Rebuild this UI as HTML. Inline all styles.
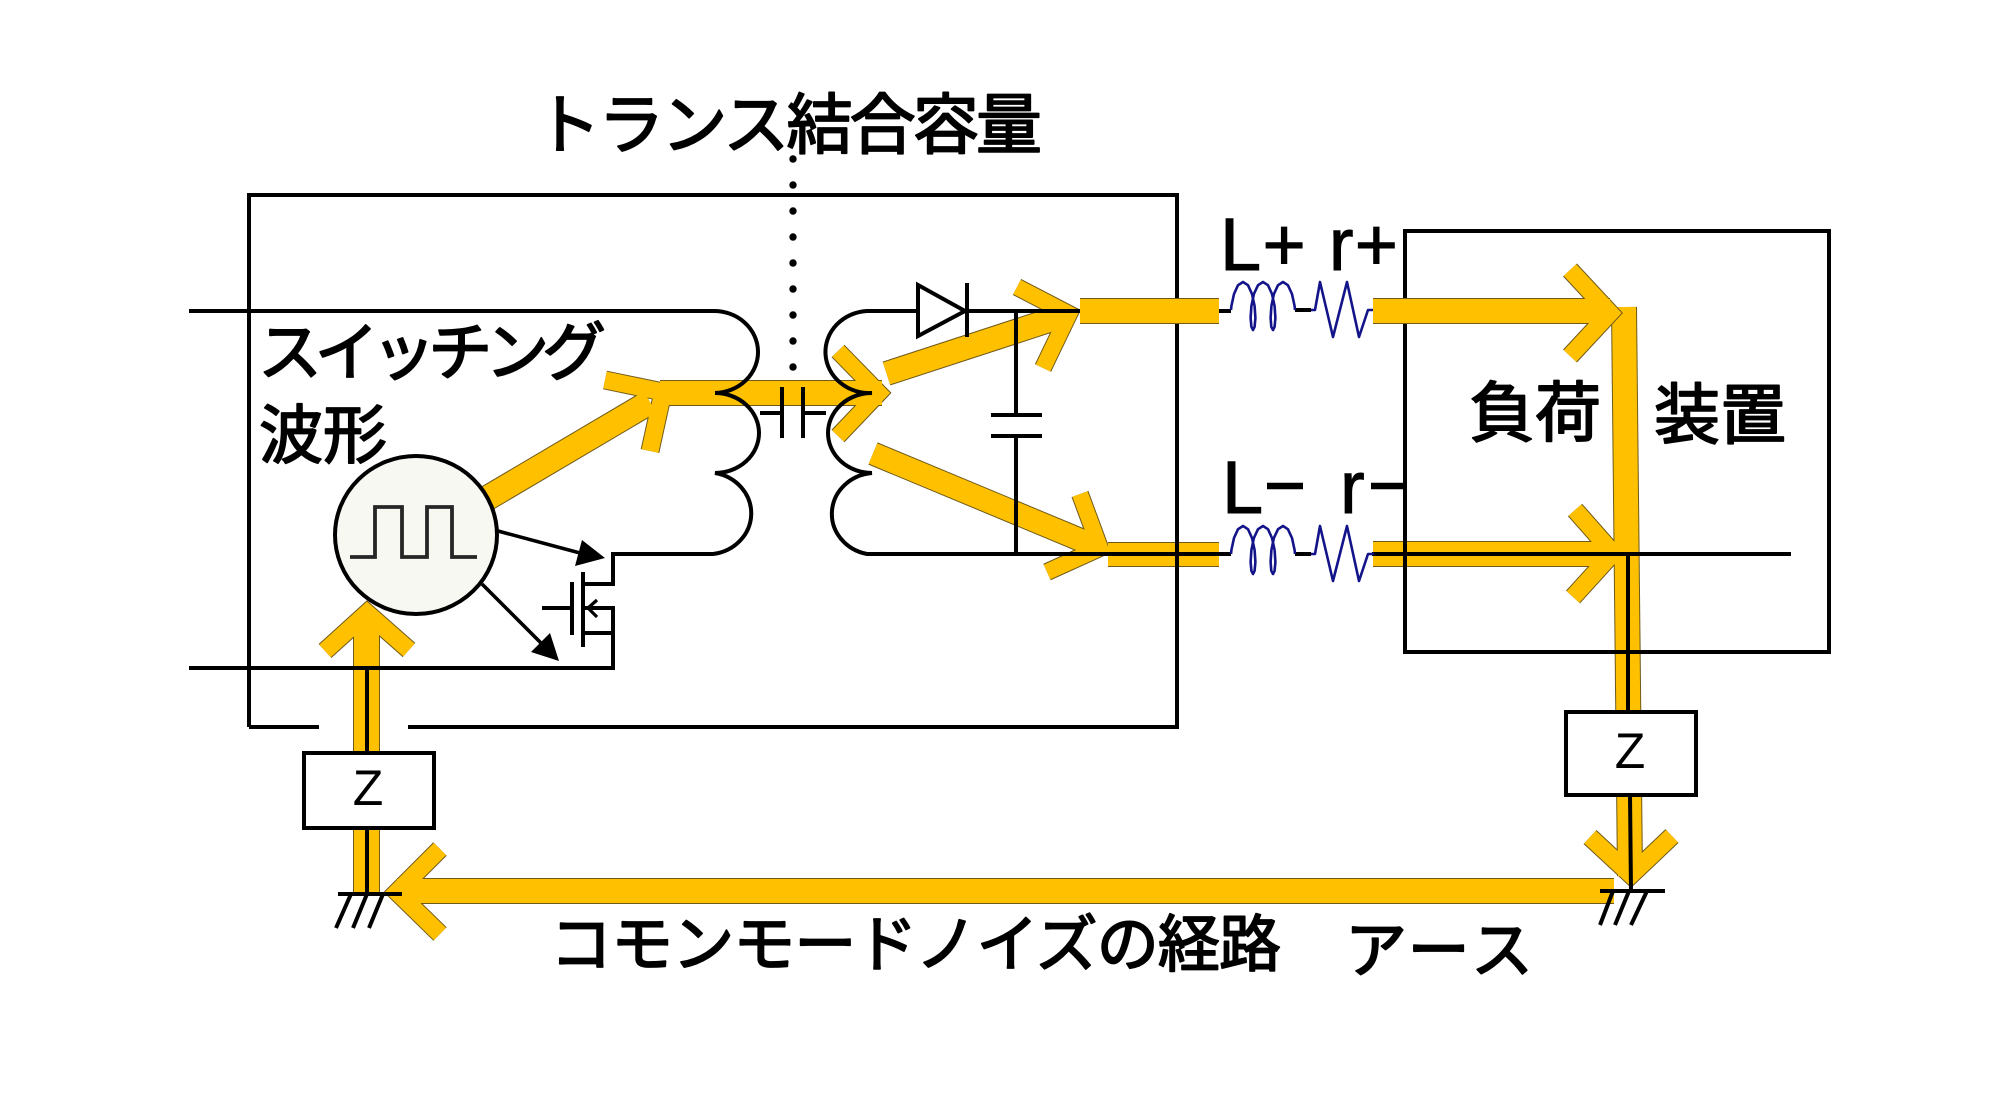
<!DOCTYPE html>
<html>
<head>
<meta charset="utf-8">
<style>
html,body{margin:0;padding:0;background:#fff;}
svg{display:block;}
</style>
</head>
<body>
<svg width="2001" height="1107" viewBox="0 0 2001 1107" xmlns="http://www.w3.org/2000/svg">
<rect x="0" y="0" width="2001" height="1107" fill="#ffffff"/>

<!-- Yellow paths beneath circuitry: outlines -->
<g fill="none" stroke="#6e5a1a" stroke-linejoin="miter" stroke-miterlimit="10" stroke-linecap="butt">
  <line x1="440" y1="526" x2="650" y2="402" stroke-width="26"/>
  <polyline points="605,380 663,392 650,451" stroke-width="19"/>
  <line x1="660" y1="393" x2="882" y2="393" stroke-width="26"/>
  <polyline points="838,351 879,393 838,436" stroke-width="18"/>
  <line x1="886.5" y1="373.5" x2="1069" y2="314" stroke-width="25"/>
  <polyline points="1017,287 1069,314 1043,368" stroke-width="18"/>
  <line x1="873" y1="453.5" x2="1100" y2="548" stroke-width="24"/>
  <polyline points="1080,494 1100,548 1047,572" stroke-width="18"/>
  <line x1="1108" y1="554.5" x2="1219" y2="554.5" stroke-width="25"/>
  <line x1="1373" y1="554" x2="1613" y2="554" stroke-width="26"/>
  <polyline points="1575,510 1613,553 1573,597" stroke-width="19"/>
  <line x1="1624" y1="307" x2="1630" y2="876" stroke-width="26"/>
  <polyline points="1590,837 1631,875 1672,836" stroke-width="19"/>
  <line x1="397" y1="891" x2="1614" y2="891" stroke-width="26"/>
  <polyline points="440,849 397,892 440,934" stroke-width="19"/>
  <line x1="366.5" y1="894" x2="366.5" y2="613" stroke-width="27"/>
  <polyline points="325,651 367,613 409,650" stroke-width="19"/>
</g>
<!-- Yellow fills -->
<g fill="none" stroke="#FFC000" stroke-linejoin="miter" stroke-miterlimit="10" stroke-linecap="butt">
  <line x1="440" y1="526" x2="650" y2="402" stroke-width="24"/>
  <polyline points="605,380 663,392 650,451" stroke-width="17"/>
  <line x1="660" y1="393" x2="882" y2="393" stroke-width="24"/>
  <polyline points="838,351 879,393 838,436" stroke-width="16"/>
  <line x1="886.5" y1="373.5" x2="1069" y2="314" stroke-width="23"/>
  <polyline points="1017,287 1069,314 1043,368" stroke-width="16"/>
  <line x1="873" y1="453.5" x2="1100" y2="548" stroke-width="22"/>
  <polyline points="1080,494 1100,548 1047,572" stroke-width="16"/>
  <line x1="1108" y1="554.5" x2="1219" y2="554.5" stroke-width="23"/>
  <line x1="1373" y1="554" x2="1613" y2="554" stroke-width="24"/>
  <polyline points="1575,510 1613,553 1573,597" stroke-width="17"/>
  <line x1="1624" y1="307" x2="1630" y2="876" stroke-width="24"/>
  <polyline points="1590,837 1631,875 1672,836" stroke-width="17"/>
  <line x1="397" y1="891" x2="1614" y2="891" stroke-width="24"/>
  <polyline points="440,849 397,892 440,934" stroke-width="17"/>
  <line x1="366.5" y1="894" x2="366.5" y2="613" stroke-width="25"/>
  <polyline points="325,651 367,613 409,650" stroke-width="17"/>
</g>

<!-- Black circuitry -->
<g fill="none" stroke="#000" stroke-width="4" stroke-linecap="butt" stroke-linejoin="miter">
  <!-- outer box -->
  <path d="M249,727 V195 H1177 V727 H408"/>
  <path d="M249,727 H319"/>
  <!-- primary side wiring + winding -->
  <path d="M189,311 H713 A44,41 0 0 1 715,393 A44,40 0 0 1 715,473 A44,41 0 0 1 713,554 H613 V584 H583"/>
  <path d="M583,608 H613 V668 H189"/>
  <path d="M583,633 H613"/>
  <!-- MOSFET -->
  <path d="M583,572 V647"/>
  <path d="M572,582 V635"/>
  <path d="M542,608 H572"/>
  <path d="M597,600 L588,608 L597,617" stroke-width="3.2"/>
  <!-- secondary winding -->
  <path d="M918,311 H867 A44,41 0 0 0 872,393 A44,40 0 0 0 872,473 A44,41 0 0 0 867,554 H1231"/>
  <!-- diode -->
  <polygon points="918,285 918,336 965,311" fill="#fff"/>
  <path d="M967,283 V337"/>
  <path d="M967,311 H1231"/>
  <!-- output cap -->
  <path d="M1016,311 V415 M1016,436 V554"/>
  <path d="M991,415 H1042 M991,436 H1042"/>
  <!-- coupling cap -->
  <path d="M760,413 H782 M803,413 H826"/>
  <path d="M782,387 V438 M803,387 V438"/>
  <!-- short wires between L and r -->
  <path d="M1295,310 H1311"/>
  <path d="M1295,554 H1311"/>
  <!-- load box -->
  <rect x="1405" y="231" width="424" height="421"/>
  <path d="M1372,554 H1791"/>
  <!-- vertical black lines in yellow paths -->
  <path d="M1628,554 L1628,712 M1630,795 L1631,891"/>
  <path d="M367,668 V753 M367,828 V894"/>
  <!-- grounds -->
  <path d="M338,894 H402 M351,894 L336,928 M367,894 L353,928 M383,894 L369,928"/>
  <path d="M1600,891 H1665 M1613,891 L1600,925 M1629,891 L1615,925 M1647,891 L1631,925"/>
</g>

<!-- dotted line -->
<g fill="#000">
  <circle cx="793" cy="159" r="3.7"/>
  <circle cx="793" cy="185" r="3.7"/>
  <circle cx="793" cy="211" r="3.7"/>
  <circle cx="793" cy="237" r="3.7"/>
  <circle cx="793" cy="263" r="3.7"/>
  <circle cx="793" cy="289" r="3.7"/>
  <circle cx="793" cy="315" r="3.7"/>
  <circle cx="793" cy="341" r="3.7"/>
  <circle cx="793" cy="367" r="3.7"/>
</g>

<!-- inductors and resistors -->
<g fill="none" stroke="#14148a" stroke-width="2.6" stroke-linejoin="round">
  <path d="M1231,310 L1231.4,306 L1234,294 L1238,285.2 L1243,282 L1248,285.2 L1252,294 L1254.6,306 L1255.4,318 L1254.6,326.8 L1253,330 L1251.4,326.8 L1250.6,318 L1251.4,306 L1253.9,294 L1258,285.2 L1263,282 L1268,285.2 L1272,294 L1274.6,306 L1275.4,318 L1274.6,326.8 L1273,330 L1271.3,326.8 L1270.6,318 L1271.4,306 L1273.9,294 L1278,285.2 L1283,282 L1287.9,285.2 L1292,294 L1294.6,306 L1295,310"/>
  <path d="M1311,310 L1315,310 L1320,282 L1333,337 L1347,282 L1359,337 L1368,310 L1374,310"/>
  <g transform="translate(0,244)">
    <path d="M1231,310 L1231.4,306 L1234,294 L1238,285.2 L1243,282 L1248,285.2 L1252,294 L1254.6,306 L1255.4,318 L1254.6,326.8 L1253,330 L1251.4,326.8 L1250.6,318 L1251.4,306 L1253.9,294 L1258,285.2 L1263,282 L1268,285.2 L1272,294 L1274.6,306 L1275.4,318 L1274.6,326.8 L1273,330 L1271.3,326.8 L1270.6,318 L1271.4,306 L1273.9,294 L1278,285.2 L1283,282 L1287.9,285.2 L1292,294 L1294.6,306 L1295,310"/>
    <path d="M1311,310 L1315,310 L1320,282 L1333,337 L1347,282 L1359,337 L1368,310 L1374,310"/>
  </g>
</g>

<!-- switching source circle -->
<ellipse cx="416" cy="535" rx="81" ry="79" fill="#f6f8f1" stroke="#000" stroke-width="4"/>
<polyline points="350,557 375,557 375,507 402,507 402,557 427,557 427,507 452,507 452,557 477,557" fill="none" stroke="#262626" stroke-width="3.8" stroke-linejoin="miter"/>

<!-- gate drive arrows -->
<g stroke="#000" stroke-width="3.6" fill="#000">
  <line x1="498" y1="531" x2="580" y2="553"/>
  <polygon points="605,558 582,540 575,566" stroke="none"/>
  <line x1="482" y1="584" x2="542" y2="644"/>
  <polygon points="559,661 531,652 550,633" stroke="none"/>
</g>

<!-- Yellow above circuitry (top output) -->
<g fill="none" stroke="#6e5a1a" stroke-linejoin="miter" stroke-miterlimit="10">
  <line x1="1080" y1="311" x2="1219" y2="311" stroke-width="26"/>
  <line x1="1373" y1="311" x2="1610" y2="311" stroke-width="26"/>
  <polyline points="1570,270 1610,313 1570,356" stroke-width="19"/>
</g>
<g fill="none" stroke="#FFC000" stroke-linejoin="miter" stroke-miterlimit="10">
  <line x1="1080" y1="311" x2="1219" y2="311" stroke-width="24"/>
  <line x1="1373" y1="311" x2="1610" y2="311" stroke-width="24"/>
  <polyline points="1570,270 1610,313 1570,356" stroke-width="17"/>
</g>

<!-- Z boxes -->
<g fill="#fff" stroke="#000" stroke-width="4">
  <rect x="304" y="753" width="130" height="75"/>
  <rect x="1566" y="712" width="130" height="83"/>
</g>
<g font-family="'Liberation Sans', 'DejaVu Sans', sans-serif" font-size="50" fill="#000" text-anchor="middle">
  <text x="368" y="805">Z</text>
  <text x="1630" y="768">Z</text>
</g>

<!-- L / r labels -->
<g font-family="'Liberation Sans', 'DejaVu Sans', sans-serif" font-size="74" fill="#000" stroke="#000" stroke-width="1">
  <text x="1220" y="270" textLength="178" lengthAdjust="spacing">L+ r+</text>
  <text x="1222" y="513">L</text>
  <text x="1340" y="513">r</text>
</g>
<g stroke="#000" stroke-width="6.5">
  <line x1="1267" y1="486" x2="1303" y2="486"/>
  <line x1="1371" y1="486" x2="1405" y2="486"/>
</g>

<!-- Japanese labels -->
<g font-family="'Liberation Sans', 'Noto Sans CJK JP', sans-serif" fill="#000" stroke="#000" stroke-width="1.8" stroke-linejoin="round">
  <text x="535" y="148" font-size="66" textLength="507" lengthAdjust="spacing">トランス結合容量</text>
  <text x="258" y="375" font-size="64" textLength="348" lengthAdjust="spacing">スイッチング</text>
  <text x="259" y="458" font-size="64">波形</text>
  <text x="1469" y="436" font-size="66">負荷</text>
  <text x="1654" y="438" font-size="66">装置</text>
  <text x="550" y="966" font-size="62" textLength="731" lengthAdjust="spacing">コモンモードノイズの経路</text>
  <text x="1345" y="972" font-size="62" textLength="188" lengthAdjust="spacing">アース</text>
</g>
</svg>
</body>
</html>
